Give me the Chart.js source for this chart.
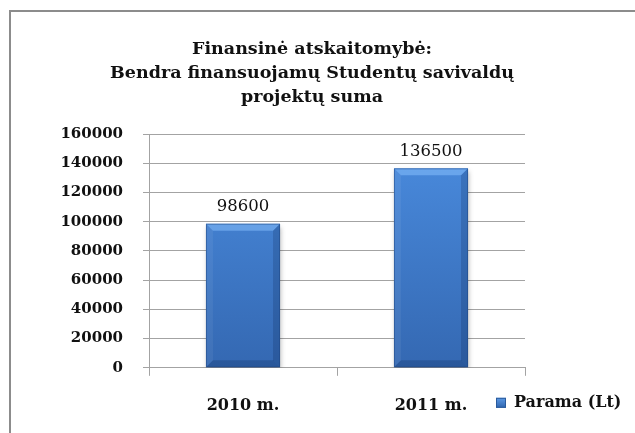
<!DOCTYPE html>
<html>
<head>
<meta charset="utf-8">
<script src="https://cdn.jsdelivr.net/npm/chart.js@4"></script>
<style>
    html, body { margin: 0; padding: 0; background: #fff; }
    #frame { position: absolute; left: 9px; top: 10px; width: 700px; height: 500px; border-left: 2px solid #8c8c8c; border-top: 2px solid #8c8c8c; }
    #wrap { position: absolute; left: 0; top: 0; width: 635px; height: 433px; }
    #title { position: absolute; left: 12px; width: 600px; top: 36px; text-align: center; font: bold 17.5px/24px 'DejaVu Serif', serif; color: #111; }
</style>
</head>
<body>
<div id="frame"></div>
<div id="wrap"><canvas id="financeChart" width="635" height="433"></canvas></div>
<div id="title"></div>
<script>
    // data
    const years = ['2010 m.', '2011 m.'];
    const parama = [98600, 136500];
    const seriesName = 'Parama (Lt)';
    const titleLines = ['Finansinė atskaitomybė:', 'Bendra finansuojamų Studentų savivaldų', 'projektų suma'];
    const yMax = 160000;
    const yStep = 20000;

    const serif = "'DejaVu Serif', serif";
    const gridGray = '#a3a3a3';

    // title
    const titleEl = document.getElementById('title');
    titleLines.forEach(line => {
        const d = document.createElement('div');
        d.textContent = line;
        titleEl.appendChild(d);
    });

    function barFill(context) {
        const chart = context.chart;
        const area = chart.chartArea;
        if (!area) return '#3a78c8';
        const g = chart.ctx.createLinearGradient(0, area.top, 0, area.bottom);
        g.addColorStop(0, '#4b8de0');
        g.addColorStop(1, '#3468b2');
        return g;
    }

    // shadow under bars + bevelled edges
    const bevelBars = {
        id: 'bevelBars',
        beforeDatasetsDraw(chart) {
            const c = chart.ctx;
            c.save();
            c.shadowColor = 'rgba(0,0,0,0.3)';
            c.shadowBlur = 5;
            c.shadowOffsetX = 1;
            c.shadowOffsetY = 3;
        },
        afterDatasetsDraw(chart) {
            const c = chart.ctx;
            c.restore();
            const b = 7;
            chart.getDatasetMeta(0).data.forEach(bar => {
                const l = bar.x - bar.width / 2, r = bar.x + bar.width / 2;
                const t = bar.y, btm = bar.base;
                const side = (pts, col) => {
                    c.beginPath();
                    c.moveTo(pts[0][0], pts[0][1]);
                    for (let i = 1; i < pts.length; i++) c.lineTo(pts[i][0], pts[i][1]);
                    c.closePath();
                    c.fillStyle = col;
                    c.fill();
                };
                side([[l, t], [r, t], [r - b, t + b], [l + b, t + b]], 'rgba(140,195,255,0.5)');
                side([[l, t], [l + b, t + b], [l + b, btm - b], [l, btm]], 'rgba(255,255,255,0.06)');
                side([[r, t], [r - b, t + b], [r - b, btm - b], [r, btm]], 'rgba(0,20,60,0.18)');
                side([[l, btm], [l + b, btm - b], [r - b, btm - b], [r, btm]], 'rgba(0,20,60,0.2)');
                c.strokeStyle = 'rgba(30,70,130,0.5)';
                c.lineWidth = 1;
                c.strokeRect(l + 0.5, t + 0.5, bar.width - 1, btm - t - 1);
            });
        }
    };

    // value labels above bars
    const valueLabels = {
        id: 'valueLabels',
        afterDatasetsDraw(chart) {
            const c = chart.ctx;
            const ds = chart.data.datasets[0];
            c.save();
            c.font = '16.5px ' + serif;
            c.fillStyle = '#111';
            c.textAlign = 'center';
            c.textBaseline = 'middle';
            chart.getDatasetMeta(0).data.forEach((bar, i) => {
                c.fillText(ds.data[i], bar.x, bar.y - 17);
            });
            c.restore();
        }
    };

    // legend sits to the right of the category labels
    const sideLegend = {
        id: 'sideLegend',
        afterDraw(chart) {
            const c = chart.ctx;
            const area = chart.chartArea;
            const x = area.right - 29;
            const y = area.bottom + 35;
            c.save();
            const g = c.createLinearGradient(0, y - 5, 0, y + 5);
            g.addColorStop(0, '#5c9ae6');
            g.addColorStop(1, '#2f64ad');
            c.fillStyle = g;
            c.fillRect(x, y - 5, 10, 10);
            c.strokeStyle = '#2a5a9c';
            c.strokeRect(x + 0.5, y - 4.5, 9, 9);
            c.font = 'bold 16px ' + serif;
            c.fillStyle = '#111';
            c.textBaseline = 'middle';
            c.fillText(chart.data.datasets[0].label, x + 18, y);
            c.restore();
        }
    };

    const financeCtx = document.getElementById('financeChart').getContext('2d');
    new Chart(financeCtx, {
        type: 'bar',
        data: {
            labels: years,
            datasets: [{
                label: seriesName,
                data: parama,
                backgroundColor: barFill,
                borderWidth: 0,
                categoryPercentage: 1,
                barPercentage: 0.394
            }]
        },
        plugins: [bevelBars, valueLabels, sideLegend],
        options: {
            responsive: false,
            animation: false,
            layout: { padding: { left: 55, right: 110, top: 134, bottom: -2 } },
            scales: {
                y: {
                    min: 0,
                    max: yMax,
                    ticks: { stepSize: yStep, color: '#111', padding: 20, font: { family: serif, size: 15, weight: 'bold' }, callback: v => String(v) },
                    grid: { color: gridGray, tickLength: 6 },
                    border: { color: gridGray },
                    afterFit(scale) { scale.width = 94; }
                },
                x: {
                    ticks: { color: '#111', padding: 20, font: { family: serif, size: 16, weight: 'bold' } },
                    grid: { drawOnChartArea: false, color: gridGray, tickLength: 8, offset: true },
                    border: { color: gridGray }
                }
            },
            plugins: {
                legend: { display: false },
                tooltip: { enabled: false },
                title: { display: false }
            }
        }
    });
</script>
</body>
</html>
